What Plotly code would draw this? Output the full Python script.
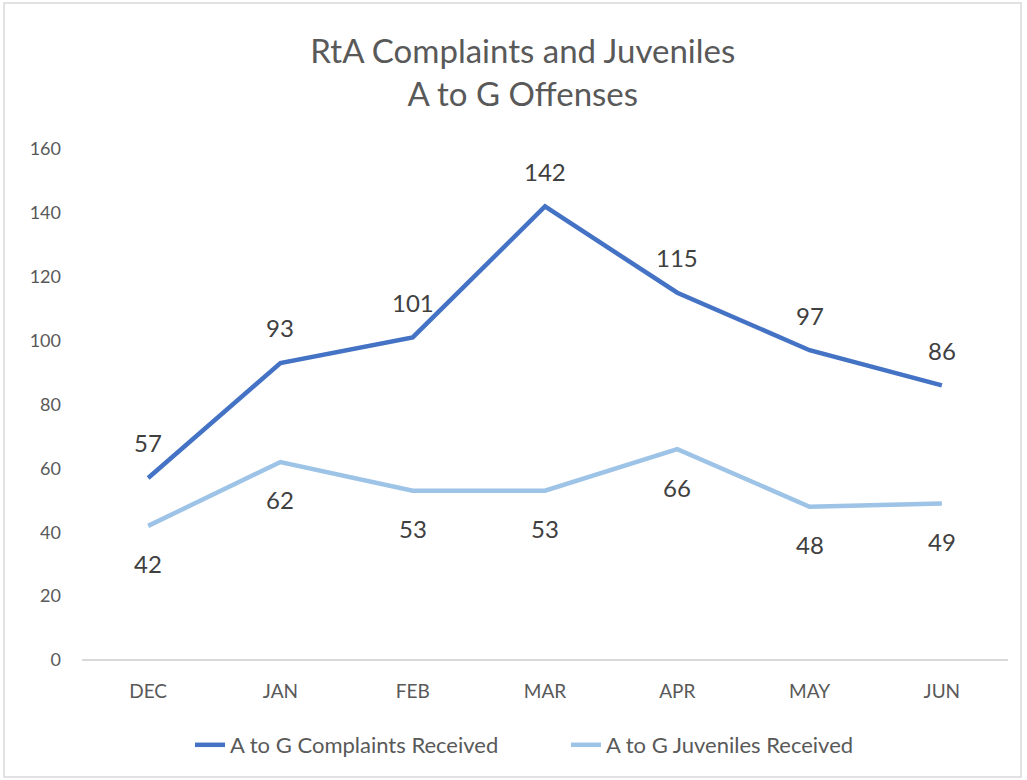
import plotly.graph_objects as go

months = ["DEC", "JAN", "FEB", "MAR", "APR", "MAY", "JUN"]
complaints = [57, 93, 101, 142, 115, 97, 86]
juveniles = [42, 62, 53, 53, 66, 48, 49]
y_ticks = [0, 20, 40, 60, 80, 100, 120, 140, 160]

FONT = "Lato"
GRAY = "#595959"
LABEL = "#404040"

fig = go.Figure()
fig.add_trace(go.Scatter(
    x=months, y=complaints, name="A to G Complaints Received",
    mode="lines", line=dict(color="#4472C4", width=4.5),
))
fig.add_trace(go.Scatter(
    x=months, y=juveniles, name="A to G Juveniles Received",
    mode="lines", line=dict(color="#9DC3E6", width=4.5),
))

annotations = []
for m, v in zip(months, complaints):
    annotations.append(dict(x=m, y=v, text=str(v), showarrow=False, yshift=35,
                            xanchor="center", yanchor="middle",
                            font=dict(size=24, color=LABEL, family=FONT)))
for m, v in zip(months, juveniles):
    annotations.append(dict(x=m, y=v, text=str(v), showarrow=False, yshift=-38,
                            xanchor="center", yanchor="middle",
                            font=dict(size=24, color=LABEL, family=FONT)))

fig.update_layout(
    width=1027, height=780,
    margin=dict(l=82, r=19, t=149, b=120),
    paper_bgcolor="white", plot_bgcolor="white",
    font=dict(family=FONT, color=GRAY, size=18),
    title=dict(text="RtA Complaints and Juveniles<br>A to G Offenses",
               x=0.509, xanchor="center", y=1 - 63/780, yanchor="middle",
               font=dict(size=33, color=GRAY, family=FONT)),
    showlegend=True,
    legend=dict(orientation="h", x=(190 - 82)/926, xanchor="left",
                y=-(745 - 660)/511, yanchor="middle",
                entrywidth=331, entrywidthmode="pixels",
                font=dict(size=22, color=GRAY, family=FONT)),
    annotations=annotations,
    xaxis=dict(range=[-0.5, 6.5], showgrid=False, zeroline=False,
               showline=False, ticks="", ticklabelstandoff=18,
               tickfont=dict(size=19, color=GRAY)),
    yaxis=dict(range=[0, 160], tickvals=y_ticks, showgrid=False, zeroline=True,
               zerolinecolor="#D9D9D9", zerolinewidth=2, showline=False, ticks="",
               ticklabelstandoff=20, tickfont=dict(size=18, color=GRAY)),
    shapes=[dict(type="rect", xref="paper", yref="paper",
                 x0=-78/926, x1=(1021-82)/926, y0=-117/511, y1=(660-3)/511,
                 line=dict(color="#D9D9D9", width=1.5), fillcolor="rgba(0,0,0,0)", layer="below")],
)

fig.write_html("out.html")
